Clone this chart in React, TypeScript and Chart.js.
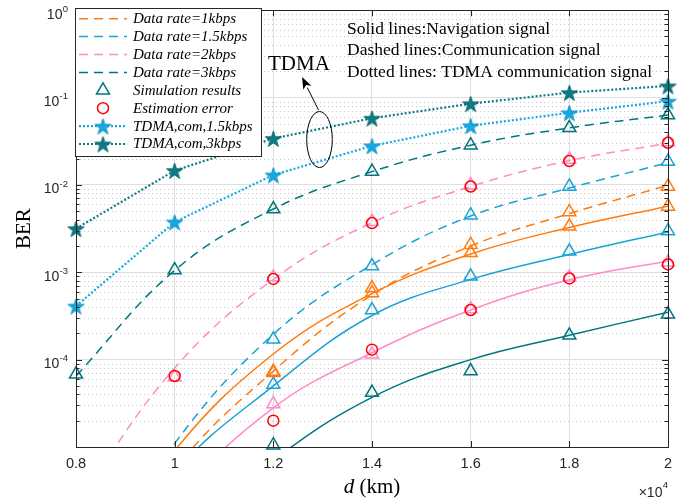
import React, { useEffect, useRef } from 'react';
import { Chart, registerables } from 'chart.js';

Chart.register(...registerables);

// distance d (x10^4 km)
const xs = [0.8, 1.0, 1.2, 1.4, 1.6, 1.8, 2.0];
const xTickLabels = ['0.8', '1', '1.2', '1.4', '1.6', '1.8', '2'];
const yGridExps = [0, -1, -2, -3, -4, -5];
const yLabelExps = [0, -1, -2, -3, -4];

// theoretical curves (solid = navigation, dashed = communication)
const navCurve1k = [2e-7, 9.1e-6, 1.16e-4, 5.7e-4, 1.62e-3, 3.25e-3, 5.7e-3];
const navCurve15k = [1e-7, 5e-6, 5.0e-5, 3.2e-4, 8.3e-4, 1.6e-3, 2.9e-3];
const navCurve2k = [5e-8, 2.3e-6, 2.8e-5, 1.2e-4, 3.7e-4, 8.2e-4, 1.35e-3];
const navCurve3k = [3e-8, 7e-7, 7e-6, 3.7e-5, 1.0e-4, 1.9e-4, 3.5e-4];
const comCurve1k = [1e-7, 5.5e-6, 7.4e-5, 5.5e-4, 2.0e-3, 4.7e-3, 9.9e-3];
const comCurve15k = [2e-7, 1.1e-5, 1.95e-4, 1.22e-3, 4.4e-3, 9.2e-3, 1.8e-2];
const comCurve2k = [2.2e-6, 8e-5, 8.3e-4, 3.7e-3, 9.6e-3, 1.9e-2, 3.0e-2];
const comCurve3k = [6.5e-5, 1.05e-3, 5.3e-3, 1.42e-2, 2.85e-2, 4.5e-2, 6.3e-2];

// simulation results (triangles)
const simNav1k = [null, null, 7.1e-5, 5.8e-4, 1.67e-3, 3.36e-3, 5.67e-3];
const simCom1k = [null, null, 7.3e-5, 6.6e-4, 2.07e-3, 4.9e-3, 9.6e-3];
const simNav15k = [null, null, 5.2e-5, 3.7e-4, 9.0e-4, 1.74e-3, 2.96e-3];
const simCom15k = [null, null, 1.71e-4, 1.18e-3, 4.5e-3, 9.6e-3, 1.85e-2];
const simNav2k = [null, null, 3.1e-5, 1.15e-4, 3.8e-4, 8.8e-4, 1.3e-3];
const simCom2k = [null, 6.3e-5, 8.8e-4, 3.8e-3, 1.0e-2, 1.95e-2, 3.1e-2];
const simNav3k = [null, null, 1.05e-5, 4.2e-5, 7.4e-5, 1.9e-4, 3.3e-4];
const simCom3k = [6.8e-5, 1.06e-3, 5.3e-3, 1.42e-2, 2.85e-2, 4.5e-2, 6.3e-2];

// estimation error (red circles)
const estNav2k = [null, null, 2.0e-5, 1.3e-4, 3.7e-4, 8.5e-4, 1.23e-3];
const estCom2k = [null, 6.5e-5, 8.4e-4, 3.66e-3, 9.6e-3, 1.88e-2, 3.04e-2];

// TDMA communication (dotted with stars)
const tdma15k = [4.1e-4, 3.76e-3, 1.3e-2, 2.8e-2, 4.75e-2, 6.7e-2, 9.1e-2];
const tdma3k = [3.16e-3, 1.46e-2, 3.4e-2, 5.8e-2, 8.5e-2, 0.114, 0.136];

const legendLabels = [
  'Data rate=1kbps',
  'Data rate=1.5kbps',
  'Data rate=2kbps',
  'Data rate=3kbps',
  'Simulation results',
  'Estimation error',
  'TDMA,com,1.5kbps',
  'TDMA,com,3kbps',
];
const noteLines = [
  'Solid lines:Navigation signal',
  'Dashed lines:Communication signal',
  'Dotted lines: TDMA communication signal',
];

const ORANGE = '#FF7B0F';
const BLUE = '#19A3D6';
const PINK = '#FF8CC8';
const TEAL = '#00777F';
const RED = '#FF0000';
const STAR_BLUE = '#16A8DE';
const STAR_TEAL = '#0D7B84';
const AXIS = '#262626';
const SERIF = '"Liberation Serif", "Times New Roman", serif';
const SANS = '"Liberation Sans", Arial, sans-serif';
const DASH = [9, 6];
const DOT = [2, 2];

const toPts = (arr: (number | null)[]) =>
  xs.map((x, i) => ({ x, y: arr[i] })).filter((p) => p.y != null);

function curve(label: string, data: number[], color: string, dashed: boolean) {
  return {
    label,
    data: toPts(data),
    borderColor: color,
    borderWidth: 1.5,
    borderDash: dashed ? DASH : [],
    pointRadius: 0,
    pointHoverRadius: 0,
    tension: 0.4,
    capBezierPoints: false,
    fill: false,
    showLine: true,
  };
}
function tri(label: string, data: (number | null)[], color: string) {
  return {
    label,
    data: toPts(data),
    showLine: false,
    pointStyle: 'triangle',
    pointRadius: 7.5,
    pointHoverRadius: 7.5,
    pointBorderColor: color,
    pointBackgroundColor: 'rgba(0,0,0,0)',
    pointBorderWidth: 1.5,
    borderColor: color,
    clip: false,
  };
}
function circ(label: string, data: (number | null)[]) {
  return {
    label,
    data: toPts(data),
    showLine: false,
    pointStyle: 'circle',
    pointRadius: 5.5,
    pointHoverRadius: 5.5,
    pointBorderColor: RED,
    pointBackgroundColor: 'rgba(0,0,0,0)',
    pointBorderWidth: 1.5,
    borderColor: RED,
    clip: false,
  };
}

function drawStarPath(g: CanvasRenderingContext2D, cx: number, cy: number, R: number) {
  g.beginPath();
  for (let i = 0; i < 10; i++) {
    const r = i % 2 === 0 ? R : R * 0.382;
    const a = -Math.PI / 2 + (i * Math.PI) / 5;
    const px = cx + r * Math.cos(a);
    const py = cy + r * Math.sin(a);
    if (i === 0) g.moveTo(px, py);
    else g.lineTo(px, py);
  }
  g.closePath();
}
function makeStar(fill: string, stroke: string, R: number) {
  const size = Math.ceil(2 * R + 4);
  const c = document.createElement('canvas');
  c.width = size;
  c.height = size;
  const g = c.getContext('2d')!;
  drawStarPath(g, size / 2, size / 2 + 1, R);
  g.fillStyle = fill;
  g.fill();
  g.strokeStyle = stroke;
  g.lineWidth = 1;
  g.stroke();
  return c;
}

function tdma(label: string, data: number[], color: string, star: HTMLCanvasElement) {
  return {
    label,
    data: toPts(data),
    showLine: true,
    borderColor: color,
    borderWidth: 2.2,
    borderDash: DOT,
    tension: 0,
    pointStyle: star,
    pointRadius: 8,
    pointHoverRadius: 8,
    clip: false,
  };
}

const minorGrid = {
  id: 'minorGrid',
  beforeDatasetsDraw(chart: any) {
    const { ctx, chartArea: a } = chart;
    const y = chart.scales.y;
    ctx.save();
    ctx.strokeStyle = '#C8C8C8';
    ctx.lineWidth = 1;
    ctx.setLineDash([1, 3]);
    for (let e = -5; e < 0; e++) {
      for (let k = 2; k <= 9; k++) {
        const py = Math.round(y.getPixelForValue(k * Math.pow(10, e))) + 0.5;
        ctx.beginPath();
        ctx.moveTo(a.left, py);
        ctx.lineTo(a.right, py);
        ctx.stroke();
      }
    }
    ctx.restore();
  },
};

function makeDecor(stars: { blue: HTMLCanvasElement; teal: HTMLCanvasElement }) {
  return {
    id: 'decor',
    afterDraw(chart: any) {
      const { ctx, chartArea: a } = chart;
      const xS = chart.scales.x;
      const yS = chart.scales.y;
      ctx.save();
      // box
      ctx.strokeStyle = AXIS;
      ctx.lineWidth = 1;
      ctx.setLineDash([]);
      ctx.strokeRect(Math.round(a.left) + 0.5, Math.round(a.top) + 0.5, Math.round(a.right - a.left), Math.round(a.bottom - a.top));
      // ticks
      ctx.beginPath();
      xs.forEach((v) => {
        const px = Math.round(xS.getPixelForValue(v)) + 0.5;
        ctx.moveTo(px, a.bottom);
        ctx.lineTo(px, a.bottom - 6);
        ctx.moveTo(px, a.top);
        ctx.lineTo(px, a.top + 6);
      });
      for (let e = -5; e <= 0; e++) {
        for (let k = 1; k <= 9; k++) {
          if (e === 0 && k > 1) break;
          const py = Math.round(yS.getPixelForValue(k * Math.pow(10, e))) + 0.5;
          const len = k === 1 ? 6 : 3.5;
          ctx.moveTo(a.left, py);
          ctx.lineTo(a.left + len, py);
          ctx.moveTo(a.right, py);
          ctx.lineTo(a.right - len, py);
        }
      }
      ctx.stroke();

      // x tick labels
      ctx.fillStyle = AXIS;
      ctx.font = `14.5px ${SANS}`;
      ctx.textAlign = 'center';
      ctx.textBaseline = 'alphabetic';
      xs.forEach((v, i) => {
        ctx.fillText(xTickLabels[i], xS.getPixelForValue(v), 468);
      });
      // y tick labels
      yLabelExps.forEach((e) => {
        const gy = yS.getPixelForValue(Math.pow(10, e));
        const sup = String(e);
        ctx.font = `9.5px ${SANS}`;
        const sw = ctx.measureText(sup).width;
        ctx.textAlign = 'right';
        ctx.fillText(sup, 68, gy + 1.7);
        ctx.font = `14px ${SANS}`;
        ctx.fillText('10', 68 - sw - 0.3, gy + 8.4);
      });
      // x10^4
      ctx.font = `9.5px ${SANS}`;
      ctx.textAlign = 'right';
      const w4 = ctx.measureText('4').width;
      ctx.fillText('4', 668, 488);
      ctx.font = `14px ${SANS}`;
      ctx.fillText('\u00D710', 668 - w4 - 0.3, 497);

      // axis titles
      ctx.fillStyle = '#000';
      ctx.font = `italic 21px ${SERIF}`;
      ctx.textAlign = 'left';
      const dW = ctx.measureText('d').width;
      ctx.font = `21px ${SERIF}`;
      const restW = ctx.measureText(' (km)').width;
      const sx = (a.left + a.right) / 2 - (dW + restW) / 2;
      ctx.font = `italic 21px ${SERIF}`;
      ctx.fillText('d', sx, 493);
      ctx.font = `21px ${SERIF}`;
      ctx.fillText(' (km)', sx + dW, 493);

      ctx.save();
      ctx.translate(30, (a.top + a.bottom) / 2);
      ctx.rotate(-Math.PI / 2);
      ctx.textAlign = 'center';
      ctx.font = `21px ${SERIF}`;
      ctx.fillText('BER', 0, 0);
      ctx.restore();

      // notes
      ctx.font = `17.5px ${SERIF}`;
      ctx.textAlign = 'left';
      ctx.fillText(noteLines[0], 347, 33.5);
      ctx.fillText(noteLines[1], 347, 55);
      ctx.fillText(noteLines[2], 347, 76.5);

      // TDMA annotation
      ctx.font = `21px ${SERIF}`;
      ctx.fillText('TDMA', 268, 70);
      ctx.beginPath();
      ctx.ellipse(319.5, 139.5, 12.8, 28, 0, 0, Math.PI * 2);
      ctx.strokeStyle = '#000';
      ctx.lineWidth = 1;
      ctx.stroke();
      // arrow
      const tx = 302, ty = 77, fx = 318.5, fy = 110;
      const ang = Math.atan2(ty - fy, tx - fx);
      const hl = 12, hw = 4.5;
      const bx = tx - hl * Math.cos(ang), by = ty - hl * Math.sin(ang);
      ctx.beginPath();
      ctx.moveTo(fx, fy);
      ctx.lineTo(bx, by);
      ctx.stroke();
      ctx.beginPath();
      ctx.moveTo(tx, ty);
      ctx.lineTo(bx + hw * Math.sin(ang), by - hw * Math.cos(ang));
      ctx.lineTo(bx + 3 * Math.cos(ang), by + 3 * Math.sin(ang));
      ctx.lineTo(bx - hw * Math.sin(ang), by + hw * Math.cos(ang));
      ctx.closePath();
      ctx.fillStyle = '#000';
      ctx.fill();

      // legend
      const lx = 75, ly = 8, lw = 186, lh = 148;
      ctx.fillStyle = '#fff';
      ctx.fillRect(lx, ly, lw, lh);
      ctx.strokeStyle = AXIS;
      ctx.lineWidth = 1;
      ctx.strokeRect(lx + 0.5, ly + 0.5, lw, lh);
      const l0 = 79, l1 = 127, lc = 103, tX = 133;
      const rowY = (i: number) => 18.7 + i * 17.9;
      const dashColors = [ORANGE, BLUE, PINK, TEAL];
      for (let i = 0; i < 4; i++) {
        ctx.beginPath();
        ctx.setLineDash(DASH);
        ctx.strokeStyle = dashColors[i];
        ctx.lineWidth = 1.5;
        ctx.moveTo(l0, rowY(i));
        ctx.lineTo(l1, rowY(i));
        ctx.stroke();
      }
      ctx.setLineDash([]);
      {
        const r = 7.5, cy = rowY(4);
        ctx.beginPath();
        ctx.moveTo(lc, cy - r);
        ctx.lineTo(lc + r * Math.sin((2 * Math.PI) / 3), cy - r * Math.cos((2 * Math.PI) / 3));
        ctx.lineTo(lc + r * Math.sin((4 * Math.PI) / 3), cy - r * Math.cos((4 * Math.PI) / 3));
        ctx.closePath();
        ctx.strokeStyle = TEAL;
        ctx.lineWidth = 1.5;
        ctx.stroke();
      }
      ctx.beginPath();
      ctx.arc(lc, rowY(5), 5.5, 0, Math.PI * 2);
      ctx.strokeStyle = RED;
      ctx.lineWidth = 1.5;
      ctx.stroke();
      const tdCols = [STAR_BLUE, STAR_TEAL];
      const tdStars = [stars.blue, stars.teal];
      for (let j = 0; j < 2; j++) {
        const cy = rowY(6 + j);
        ctx.beginPath();
        ctx.setLineDash(DOT);
        ctx.strokeStyle = tdCols[j];
        ctx.lineWidth = 2.2;
        ctx.moveTo(l0, cy);
        ctx.lineTo(l1, cy);
        ctx.stroke();
        ctx.setLineDash([]);
        const s = tdStars[j];
        ctx.drawImage(s, lc - s.width / 2, cy - s.height / 2);
      }
      ctx.fillStyle = '#000';
      ctx.font = `italic 15px ${SERIF}`;
      ctx.textAlign = 'left';
      ctx.textBaseline = 'middle';
      legendLabels.forEach((t, i) => ctx.fillText(t, tX, rowY(i) + 0.5));
      ctx.restore();
    },
  };
}

export default function App() {
  const ref = useRef<HTMLCanvasElement | null>(null);
  useEffect(() => {
    if (!ref.current) return;
    const starBlue = makeStar(STAR_BLUE, '#0E96CA', 8.5);
    const starTeal = makeStar(STAR_TEAL, '#086A72', 8.5);
    const datasets: any[] = [
      tdma('TDMA,com,3kbps', tdma3k, STAR_TEAL, starTeal),
      tdma('TDMA,com,1.5kbps', tdma15k, STAR_BLUE, starBlue),
      circ('Estimation error com 2k', estCom2k),
      circ('Estimation error nav 2k', estNav2k),
      tri('Sim com 1k', simCom1k, ORANGE),
      tri('Sim nav 1k', simNav1k, ORANGE),
      tri('Sim com 1.5k', simCom15k, BLUE),
      tri('Sim nav 1.5k', simNav15k, BLUE),
      tri('Sim com 2k', simCom2k, PINK),
      tri('Sim nav 2k', simNav2k, PINK),
      tri('Sim com 3k', simCom3k, TEAL),
      tri('Sim nav 3k', simNav3k, TEAL),
      curve('com 1k', comCurve1k, ORANGE, true),
      curve('com 1.5k', comCurve15k, BLUE, true),
      curve('com 2k', comCurve2k, PINK, true),
      curve('com 3k', comCurve3k, TEAL, true),
      curve('nav 1k', navCurve1k, ORANGE, false),
      curve('nav 1.5k', navCurve15k, BLUE, false),
      curve('nav 2k', navCurve2k, PINK, false),
      curve('nav 3k', navCurve3k, TEAL, false),
    ];
    const chart = new Chart(ref.current, {
      type: 'line',
      data: { datasets },
      options: {
        responsive: false,
        animation: false,
        events: [],
        layout: { padding: { top: 8, right: 29, left: 0, bottom: 0 } },
        plugins: { legend: { display: false }, tooltip: { enabled: false } },
        scales: {
          x: {
            type: 'linear',
            min: 0.8,
            max: 2.0,
            afterBuildTicks: (s: any) => {
              s.ticks = xs.map((v) => ({ value: v }));
            },
            afterFit: (s: any) => {
              s.height = 57;
            },
            ticks: { display: false },
            grid: { color: '#DEDEDE', lineWidth: 1, drawTicks: false },
            border: { display: false },
          },
          y: {
            type: 'logarithmic',
            min: 1e-5,
            max: 1,
            afterBuildTicks: (s: any) => {
              s.ticks = yGridExps.map((e) => ({ value: Math.pow(10, e) }));
            },
            afterFit: (s: any) => {
              s.width = 76;
            },
            ticks: { display: false },
            grid: { color: '#DEDEDE', lineWidth: 1, drawTicks: false },
            border: { display: false },
          },
        },
      } as any,
      plugins: [minorGrid, makeDecor({ blue: starBlue, teal: starTeal })],
    });
    return () => chart.destroy();
  }, []);
  return (
    <div style={{ position: 'absolute', left: 0, top: 0, width: 697, height: 504, background: '#fff' }}>
      <canvas ref={ref} width={697} height={504} style={{ display: 'block' }} />
    </div>
  );
}
